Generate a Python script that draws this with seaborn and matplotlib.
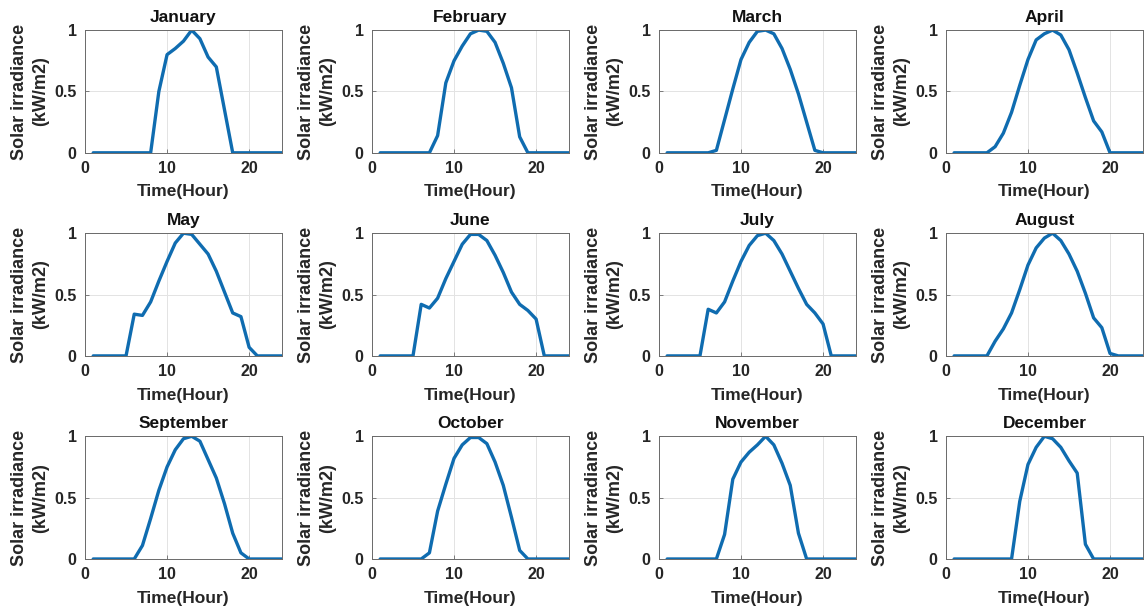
import matplotlib
matplotlib.use("Agg")
import matplotlib.pyplot as plt
import seaborn as sns
import pandas as pd

hours = list(range(1, 25))
months = ["January", "February", "March", "April", "May", "June",
          "July", "August", "September", "October", "November", "December"]

january = [0, 0, 0, 0, 0, 0, 0, 0, 0.50, 0.80, 0.85, 0.91, 1.00, 0.93, 0.78, 0.70, 0.35, 0, 0, 0, 0, 0, 0, 0]
february = [0, 0, 0, 0, 0, 0, 0, 0.14, 0.57, 0.75, 0.87, 0.97, 1.00, 0.99, 0.90, 0.73, 0.53, 0.13, 0, 0, 0, 0, 0, 0]
march = [0, 0, 0, 0, 0, 0, 0.02, 0.27, 0.52, 0.76, 0.90, 0.99, 1.00, 0.97, 0.85, 0.68, 0.48, 0.25, 0.02, 0, 0, 0, 0, 0]
april = [0, 0, 0, 0, 0, 0.05, 0.16, 0.33, 0.55, 0.76, 0.92, 0.97, 1.00, 0.96, 0.84, 0.65, 0.45, 0.26, 0.17, 0, 0, 0, 0, 0]
may = [0, 0, 0, 0, 0, 0.34, 0.33, 0.44, 0.61, 0.77, 0.92, 1.00, 0.99, 0.91, 0.83, 0.69, 0.52, 0.35, 0.32, 0.07, 0, 0, 0, 0]
june = [0, 0, 0, 0, 0, 0.42, 0.39, 0.47, 0.63, 0.77, 0.91, 0.99, 0.99, 0.94, 0.82, 0.68, 0.52, 0.42, 0.37, 0.30, 0, 0, 0, 0]
july = [0, 0, 0, 0, 0, 0.38, 0.35, 0.44, 0.61, 0.77, 0.90, 0.98, 1.00, 0.94, 0.83, 0.69, 0.55, 0.42, 0.35, 0.26, 0, 0, 0, 0]
august = [0, 0, 0, 0, 0, 0.12, 0.22, 0.35, 0.54, 0.74, 0.88, 0.96, 1.00, 0.94, 0.83, 0.69, 0.51, 0.31, 0.23, 0.02, 0, 0, 0, 0]
september = [0, 0, 0, 0, 0, 0, 0.11, 0.33, 0.56, 0.75, 0.89, 0.98, 1.00, 0.96, 0.81, 0.66, 0.45, 0.21, 0.05, 0, 0, 0, 0, 0]
october = [0, 0, 0, 0, 0, 0, 0.05, 0.39, 0.61, 0.82, 0.93, 0.99, 0.99, 0.94, 0.79, 0.60, 0.34, 0.07, 0, 0, 0, 0, 0, 0]
november = [0, 0, 0, 0, 0, 0, 0, 0.20, 0.65, 0.79, 0.87, 0.93, 1.00, 0.93, 0.78, 0.60, 0.21, 0, 0, 0, 0, 0, 0, 0]
december = [0, 0, 0, 0, 0, 0, 0, 0, 0.47, 0.77, 0.91, 1.00, 0.98, 0.91, 0.80, 0.70, 0.12, 0, 0, 0, 0, 0, 0, 0]

series = [january, february, march, april, may, june,
          july, august, september, october, november, december]

x_ticks = [0, 10, 20]
y_ticks = [0, 0.5, 1]
y_tick_labels = ["0", "0.5", "1"]

sns.set_theme(style="ticks")
plt.rcParams["font.family"] = ["Liberation Sans", "DejaVu Sans"]
plt.rcParams["font.weight"] = "bold"

fig, axes = plt.subplots(3, 4, figsize=(11.44, 6.14), dpi=100)
fig.subplots_adjust(left=0.0743, right=0.999, top=0.951, bottom=0.0896,
                    wspace=0.457, hspace=0.655)

line_color = "#0f6cb0"
for ax, month, vals in zip(axes.flat, months, series):
    df = pd.DataFrame({"Hour": hours, "Irradiance": vals})
    sns.lineplot(data=df, x="Hour", y="Irradiance", ax=ax,
                 color=line_color, linewidth=2.4)
    ax.set_xlim(0, 24)
    ax.set_ylim(0, 1)
    ax.set_xticks(x_ticks)
    ax.set_yticks(y_ticks)
    ax.set_yticklabels(y_tick_labels)
    ax.grid(True, color="#e3e3e3", linewidth=0.7)
    ax.set_axisbelow(True)
    for sp in ax.spines.values():
        sp.set_color("#6a6a6a")
        sp.set_linewidth(0.7)
        sp.set_visible(True)
    ax.tick_params(direction="in", length=3, width=0.6, color="#6a6a6a",
                   labelsize=11.5, pad=6, labelcolor="#262626")
    for lab in ax.get_xticklabels() + ax.get_yticklabels():
        lab.set_fontweight("bold")
    ax.set_title(month, fontsize=12.5, fontweight="bold", pad=6, color="#111111")
    ax.set_xlabel("Time(Hour)", fontsize=12.5, fontweight="bold", labelpad=6,
                  color="#262626")
    ax.set_ylabel("Solar irradiance\n(kW/m2)", fontsize=13, fontweight="bold",
                  labelpad=4, linespacing=1.3, color="#262626")

fig.savefig("out.png", dpi=100, facecolor="white")
